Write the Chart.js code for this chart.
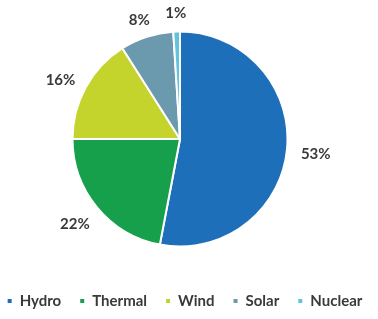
<!DOCTYPE html>
<html>
<head>
<meta charset="utf-8">
<script src="https://cdn.jsdelivr.net/npm/chart.js@4/dist/chart.umd.min.js"></script>
<style>
  html, body { margin: 0; padding: 0; background: #fff; }
  #wrap { width: 378px; height: 319px; position: relative; }
</style>
</head>
<body>
<div id="wrap"><canvas id="c" width="378" height="319"></canvas></div>
<script>
const categories = ["Hydro", "Thermal", "Wind", "Solar", "Nuclear"];
const shares = [53, 22, 16, 8, 1];
const sliceColors = ["#1E6FBA", "#17A04B", "#C4D42C", "#6B99AE", "#62C3DF"];

const FONT = "Lato, 'Open Sans', sans-serif";
const TEXT_COLOR = "#3A3A3A";

const outsideLabels = {
  id: "outsideLabels",
  afterDatasetsDraw(chart) {
    const ctx = chart.ctx;
    const meta = chart.getDatasetMeta(0);
    ctx.save();
    ctx.font = "bold 15px " + FONT;
    ctx.fillStyle = TEXT_COLOR;
    ctx.textAlign = "center";
    ctx.textBaseline = "middle";
    meta.data.forEach((arc, i) => {
      const p = arc.getProps(["x", "y", "startAngle", "endAngle", "outerRadius"], true);
      const mid = (p.startAngle + p.endAngle) / 2;
      const txt = shares[i] + "%";
      const w = ctx.measureText(txt).width;
      const h = 14;
      const r = p.outerRadius + 14;
      const cx = p.x + Math.cos(mid) * r + Math.cos(mid) * w / 2;
      const cy = p.y + Math.sin(mid) * r + Math.sin(mid) * h / 2 + 3;
      ctx.fillText(txt, cx, cy);
    });
    ctx.restore();
  }
};

const bottomLegend = {
  id: "bottomLegend",
  afterDraw(chart) {
    const ctx = chart.ctx;
    ctx.save();
    ctx.font = "bold 15px " + FONT;
    ctx.textBaseline = "middle";
    ctx.textAlign = "left";
    const box = 4, gapText = 8, gapItem = 19;
    const widths = categories.map(c => ctx.measureText(c).width);
    let total = 0;
    widths.forEach((w, i) => { total += box + gapText + w + (i < widths.length - 1 ? gapItem : 0); });
    let x = 185 - total / 2;
    const y = 301;
    categories.forEach((c, i) => {
      ctx.fillStyle = sliceColors[i];
      ctx.fillRect(x, y - 2, box, box);
      ctx.fillStyle = TEXT_COLOR;
      ctx.fillText(c, x + box + gapText, y);
      x += box + gapText + widths[i] + gapItem;
    });
    ctx.restore();
  }
};

new Chart(document.getElementById("c"), {
  type: "pie",
  data: {
    labels: categories,
    datasets: [{
      data: shares,
      backgroundColor: sliceColors,
      borderColor: "#ffffff",
      borderWidth: 2
    }]
  },
  options: {
    responsive: false,
    animation: false,
    devicePixelRatio: 1,
    layout: { padding: { top: 30.5, bottom: 71.5, left: 0, right: 18 } },
    plugins: {
      legend: { display: false },
      tooltip: { enabled: false }
    }
  },
  plugins: [outsideLabels, bottomLegend]
});
</script>
</body>
</html>
